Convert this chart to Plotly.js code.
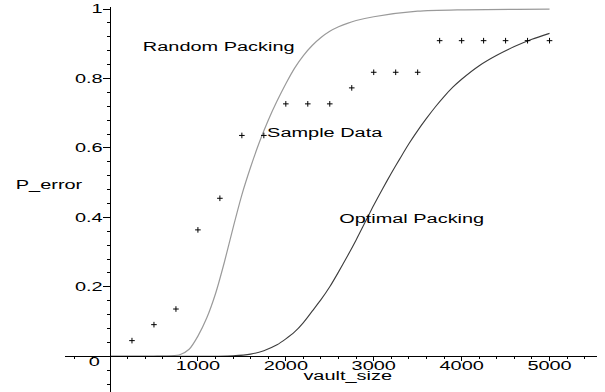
<!DOCTYPE html>
<html>
<head>
<meta charset="utf-8">
<script src="https://cdn.plot.ly/plotly-3.0.1.min.js"></script>
<style>
html,body{margin:0;padding:0;background:#fff;}
#chart{width:605px;height:392px;}
</style>
</head>
<body>
<div id="chart"></div>
<script>
// Sample data (crosses)
const sampleX = [250,500,750,1000,1250,1500,1750,2000,2250,2500,2750,3000,3250,3500,3750,4000,4250,4500,4750,5000];
const sampleY = [0.045,0.091,0.136,0.364,0.455,0.636,0.636,0.727,0.727,0.727,0.773,0.818,0.818,0.818,0.909,0.909,0.909,0.909,0.909,0.909];

// Random packing curve (grey)
const randomX = [0,500,700,800,900,1000,1100,1200,1300,1400,1500,1600,1700,1800,1900,2000,2100,2200,2300,2400,2500,2600,2700,2800,3000,3500,4000,5000];
const randomY = [0,0,0.001,0.005,0.02,0.058,0.11,0.18,0.27,0.37,0.465,0.545,0.617,0.68,0.735,0.785,0.83,0.866,0.895,0.918,0.936,0.949,0.959,0.967,0.978,0.994,0.998,1.0];

// Optimal packing curve (dark)
const optimalX = [0,1200,1400,1600,1750,1900,2000,2100,2200,2300,2400,2500,2600,2700,2800,2900,3000,3100,3200,3300,3400,3500,3600,3700,3800,3900,4000,4200,4400,4600,4800,5000];
const optimalY = [0,0,0.001,0.006,0.016,0.033,0.05,0.07,0.097,0.13,0.163,0.2,0.243,0.288,0.335,0.385,0.435,0.482,0.527,0.57,0.612,0.65,0.685,0.718,0.748,0.775,0.798,0.837,0.867,0.892,0.913,0.93];

// Tick labels
const xTickVals = [1000,2000,3000,4000,5000];
const xTickText = ['1000','2000','3000','4000','5000'];
const yTickVals = [0.2,0.4,0.6,0.8,1];
const yTickText = ['0.2','0.4','0.6','0.8','1'];

// Curve labels
const labelText = ['Random Packing','Sample Data','Optimal Packing'];
const labelX = [1233,2446,3432];
const labelY = [0.892,0.644,0.394];

const xRange = [-512, 5540];
const yRange = [-0.103, 1.006];
const xZeroFrac = (0 - xRange[0]) / (xRange[1] - xRange[0]);
const yZeroFrac = (0 - yRange[0]) / (yRange[1] - yRange[0]);

const FONT = {family: '"Liberation Sans", Arial, sans-serif', size: 12, color: '#000'};

const traces = [
  {x: randomX, y: randomY, type: 'scatter', mode: 'lines',
   line: {color: '#9a9a9a', width: 1.2, shape: 'spline', smoothing: 0.7}, hoverinfo: 'skip'},
  {x: optimalX, y: optimalY, type: 'scatter', mode: 'lines',
   line: {color: '#3c3c3c', width: 1.1, shape: 'spline', smoothing: 0.7}, hoverinfo: 'skip'},
  {x: sampleX, y: sampleY, type: 'scatter', mode: 'markers',
   marker: {symbol: 'cross-thin', size: 4, color: '#000', line: {width: 1, color: '#000'}}, hoverinfo: 'skip'}
];

const annotations = labelText.map((t, i) => ({
  text: t, x: labelX[i], y: labelY[i], xref: 'x', yref: 'y',
  xanchor: 'center', yanchor: 'middle', showarrow: false, font: FONT
}));
annotations.push({text: 'P_error', x: -0.031, y: 0.493, xref: 'paper', yref: 'y',
  xanchor: 'center', yanchor: 'middle', showarrow: false, font: FONT});
annotations.push({text: 'vault_size', x: 2708, y: -0.057, xref: 'x', yref: 'y',
  xanchor: 'center', yanchor: 'middle', showarrow: false, font: FONT});
annotations.push({text: '0', x: -182, y: -0.018, xref: 'x', yref: 'y',
  xanchor: 'center', yanchor: 'middle', showarrow: false, font: FONT});

const layout = {
  width: 605, height: 392,
  margin: {l: 65, r: 8, t: 7, b: 0, pad: 0},
  paper_bgcolor: '#fff', plot_bgcolor: '#fff',
  showlegend: false,
  font: FONT,
  xaxis: {
    range: xRange, anchor: 'free', position: yZeroFrac,
    showline: true, linecolor: '#000', linewidth: 1,
    showgrid: false, zeroline: false,
    tickmode: 'array', tickvals: xTickVals, ticktext: xTickText,
    ticks: 'outside', ticklen: 4, tickwidth: 1, tickcolor: '#000',
    ticklabelstandoff: -6,
    tickfont: FONT,
    minor: {tickmode: 'linear', tick0: 0, dtick: 200, ticks: 'outside', ticklen: 2, tickwidth: 1, tickcolor: '#000', showgrid: false}
  },
  yaxis: {
    range: yRange, anchor: 'free', position: xZeroFrac,
    showline: true, linecolor: '#000', linewidth: 1,
    showgrid: false, zeroline: false,
    tickmode: 'array', tickvals: yTickVals, ticktext: yTickText,
    ticks: 'outside', ticklen: 7, tickwidth: 1, tickcolor: '#000',
    ticklabelstandoff: -2,
    tickfont: FONT,
    minor: {tickmode: 'linear', tick0: 0, dtick: 0.04, ticks: 'outside', ticklen: 3.5, tickwidth: 1, tickcolor: '#000', showgrid: false}
  },
  annotations: annotations
};

Plotly.newPlot('chart', traces, layout, {displayModeBar: false, staticPlot: true}).then(gd => {
  // the reference's lettering is horizontally wide; stretch glyphs to match
  gd.querySelectorAll('svg text').forEach(t => {
    const w = t.getComputedTextLength();
    if (w > 0) {
      t.setAttribute('textLength', (w * 1.66).toFixed(1));
      t.setAttribute('lengthAdjust', 'spacingAndGlyphs');
    }
  });
});
</script>
</body>
</html>
